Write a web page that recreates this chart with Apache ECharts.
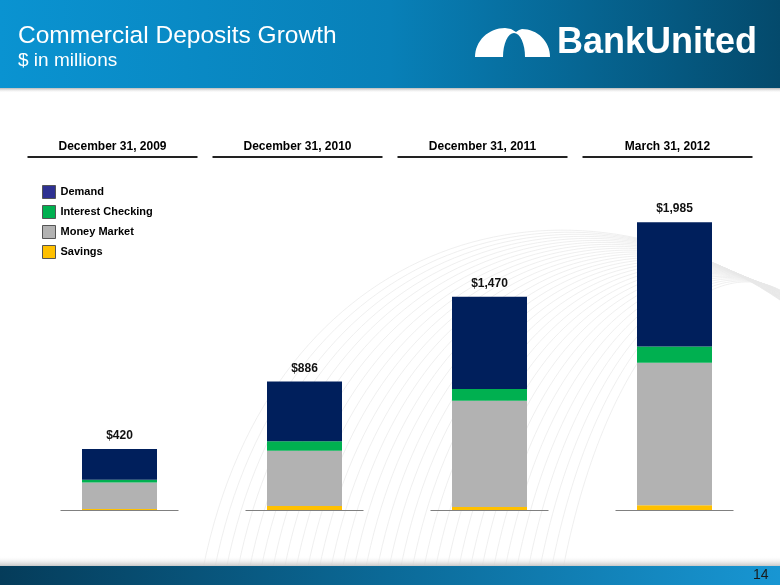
<!DOCTYPE html>
<html>
<head>
<meta charset="utf-8">
<script src="https://cdn.jsdelivr.net/npm/echarts@6/dist/echarts.min.js"></script>
<style>
html,body{margin:0;padding:0;background:#fff;}
#c{width:780px;height:585px;}
</style>
</head>
<body>
<div id="c"></div>
<script>
const categories = ['December 31, 2009', 'December 31, 2010', 'December 31, 2011', 'March 31, 2012'];
const demand = [212, 411, 635, 857];
const interestChecking = [18, 66, 82, 113];
const moneyMarket = [183, 382, 732, 983];
const savings = [7, 27, 21, 32];
const totalLabels = ['$420', '$886', '$1,470', '$1,985'];

const FONT = 'Liberation Sans, Arial, sans-serif';
const chart = echarts.init(document.getElementById('c'), null, {renderer: 'canvas'});

// logo outline (decoration)
function ellipsePts(cx, cy, rx, ry, a0, a1, n) {
  const pts = [];
  for (let k = 0; k <= n; k++) {
    const a = a0 + (a1 - a0) * k / n;
    pts.push([cx + rx * Math.cos(a), cy - ry * Math.sin(a)]);
  }
  return pts;
}
const logoPts = [].concat(
  ellipsePts(505, 57, 30, 29, Math.PI, Math.PI / 2, 16),
  [[511, 29], [516, 32], [519, 30]],
  ellipsePts(522, 57, 28, 28, Math.PI / 2, 0, 16),
  ellipsePts(514, 57, 11, 24, 0, Math.PI, 16)
);

// faint background swoosh lines (decoration)
const swoosh = [];
for (let k = 0; k < 32; k++) {
  const t = k / 31;
  swoosh.push({type: 'bezierCurve', z: -5, silent: true,
    shape: {x1: 200 + 360 * t, y1: 585, cpx1: 260 + 340 * t, cpy1: 240 + 120 * t,
            cpx2: 560 + 140 * t, cpy2: 150 + 100 * t, x2: 780, y2: 300 - 10 * t},
    style: {stroke: '#E8E8E8', lineWidth: 0.7, fill: null}});
}

const baseGraphics = swoosh.concat([
  {type: 'rect', shape: {x: 0, y: 0, width: 780, height: 88}, z: -10,
   style: {fill: new echarts.graphic.LinearGradient(0, 0, 1, 0, [
     {offset: 0, color: '#0A93D1'}, {offset: 0.5, color: '#0880B8'}, {offset: 1, color: '#044A6C'}])}},
  {type: 'rect', shape: {x: 0, y: 88, width: 780, height: 5}, z: -10,
   style: {fill: new echarts.graphic.LinearGradient(0, 0, 0, 1, [
     {offset: 0, color: '#B8B8B8'}, {offset: 1, color: 'rgba(255,255,255,0)'}])}},
  {type: 'rect', shape: {x: 0, y: 556, width: 780, height: 10}, z: -4,
   style: {fill: new echarts.graphic.LinearGradient(0, 0, 0, 1, [
     {offset: 0, color: 'rgba(255,255,255,0)'}, {offset: 1, color: '#C8C8C8'}])}},
  {type: 'rect', shape: {x: 0, y: 566, width: 780, height: 19}, z: -4,
   style: {fill: new echarts.graphic.LinearGradient(0, 0, 1, 0, [
     {offset: 0, color: '#053C5A'}, {offset: 0.5, color: '#0B6A98'}, {offset: 1, color: '#1896D3'}])}},
  {type: 'text', x: 18, y: 24, z: 10,
   style: {text: 'Commercial Deposits Growth', fill: '#fff', font: '24.5px ' + FONT}},
  {type: 'text', x: 18, y: 51, z: 10,
   style: {text: '$ in millions', fill: '#fff', font: '19px ' + FONT}},
  {type: 'polygon', z: 10, shape: {points: logoPts}, style: {fill: '#fff'}},
  {type: 'text', x: 557, y: 25, z: 10,
   style: {text: 'BankUnited', fill: '#fff', font: 'bold 36px ' + FONT}},
  {type: 'text', x: 753, y: 568, z: 10,
   style: {text: '14', fill: '#1A1A1A', font: '14px ' + FONT}}
]);

const option = {
  backgroundColor: '#fff',
  animation: false,
  textStyle: {fontFamily: FONT},
  legend: {
    orient: 'vertical', left: 37, top: 180, itemWidth: 13, itemHeight: 13, itemGap: 6,
    icon: 'rect',
    itemStyle: {borderColor: '#555', borderWidth: 1},
    textStyle: {fontWeight: 'bold', fontSize: 11, color: '#000', fontFamily: FONT},
    data: [
      {name: 'Demand', itemStyle: {color: '#2E3192'}},
      {name: 'Interest Checking'},
      {name: 'Money Market'},
      {name: 'Savings'}
    ]
  },
  grid: [
    {left: 27, right: 13, top: 191, bottom: 75},
    {left: 20, right: 20, top: 157, height: 1}
  ],
  xAxis: [
    {type: 'category', data: categories, gridIndex: 0, show: false},
    {type: 'category', data: categories, gridIndex: 1, position: 'top',
     axisLine: {show: false}, axisTick: {show: false},
     axisLabel: {margin: 4, fontWeight: 'bold', fontSize: 12, color: '#000', fontFamily: FONT, interval: 0}}
  ],
  yAxis: [
    {type: 'value', min: 0, max: 2200, gridIndex: 0, show: false},
    {type: 'value', gridIndex: 1, show: false}
  ],
  series: [
    {name: 'Savings', type: 'bar', stack: 't', data: savings, barWidth: 75, itemStyle: {color: '#FFC000'}},
    {name: 'Money Market', type: 'bar', stack: 't', data: moneyMarket, barWidth: 75, itemStyle: {color: '#B2B2B2'}},
    {name: 'Interest Checking', type: 'bar', stack: 't', data: interestChecking, barWidth: 75, itemStyle: {color: '#00B050'}},
    {name: 'Demand', type: 'bar', stack: 't', data: demand, barWidth: 75, itemStyle: {color: '#001F5C'},
     label: {show: true, position: 'top', distance: 7,
       formatter: p => totalLabels[p.dataIndex],
       fontWeight: 'bold', fontSize: 12, color: '#111', fontFamily: FONT}}
  ],
  graphic: baseGraphics
};
chart.setOption(option);

const extra = [];
categories.forEach((c, i) => {
  const h = chart.convertToPixel({xAxisIndex: 1}, c);
  extra.push({type: 'line', z: 5, shape: {x1: h - 85, y1: 157, x2: h + 85, y2: 157},
    style: {stroke: '#222', lineWidth: 2}});
  const b = chart.convertToPixel({xAxisIndex: 0}, c);
  const y0 = chart.convertToPixel({yAxisIndex: 0}, 0);
  extra.push({type: 'line', z: 5, shape: {x1: b - 59, y1: y0 + 0.5, x2: b + 59, y2: y0 + 0.5},
    style: {stroke: '#808080', lineWidth: 1}});
});
chart.setOption({graphic: baseGraphics.concat(extra)});
</script>
</body>
</html>
